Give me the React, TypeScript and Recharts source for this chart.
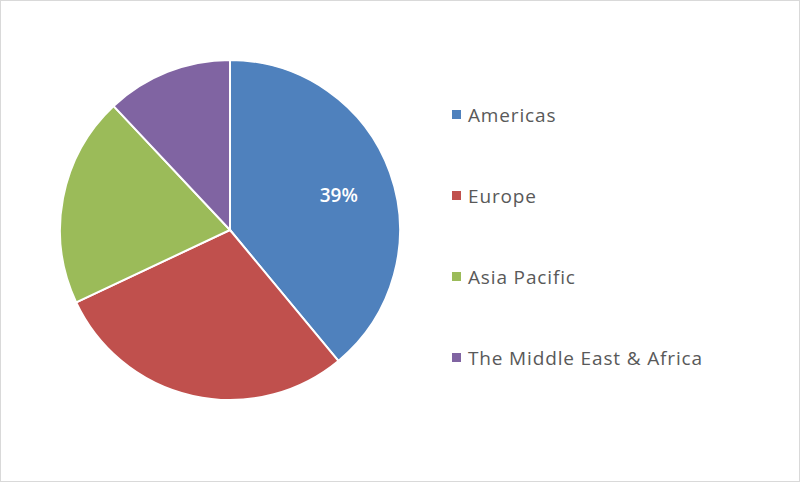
import { PieChart, Pie, Cell, Legend } from 'recharts';

// regional share, %
const regions = ['Americas', 'Europe', 'Asia Pacific', 'The Middle East & Africa'];
const shares = [39, 29, 20, 12];
const colors = ['#4F81BD', '#C0504D', '#9BBB59', '#8064A2'];
// only the first slice carries a percentage label
const labelled = [true, false, false, false];

const data = regions.map((name, i) => ({ name, value: shares[i] }));

const RAD = Math.PI / 180;

function SliceLabel(props: any) {
  const { cx, cy, midAngle, outerRadius, index, value } = props;
  if (!labelled[index]) return null;
  const r = outerRadius * 0.68;
  const x = cx + r * Math.cos(-midAngle * RAD);
  const y = cy + r * Math.sin(-midAngle * RAD) + 4;
  return (
    <text
      x={x}
      y={y}
      fill="#ffffff"
      fontSize={19}
      fontWeight={600}
      fontFamily="'Open Sans', sans-serif"
      textAnchor="middle"
      dominantBaseline="central"
    >
      {`${value}%`}
    </text>
  );
}

function LegendList() {
  return (
    <div
      style={{
        fontFamily: "'Open Sans', sans-serif",
        fontSize: 19,
        letterSpacing: 0.85,
        color: '#595959',
      }}
    >
      {regions.map((name, i) => (
        <div key={name} style={{ display: 'flex', alignItems: 'center', height: 81 }}>
          <span
            style={{
              display: 'inline-block',
              width: 9,
              height: 9,
              background: colors[i],
              marginRight: 7,
            }}
          />
          <span>{name}</span>
        </div>
      ))}
    </div>
  );
}

export default function App() {
  return (
    <div
      style={{
        position: 'absolute',
        left: 0,
        top: 0,
        width: 800,
        height: 482,
        boxSizing: 'border-box',
        border: '1px solid #d9d9d9',
        background: '#ffffff',
      }}
    >
      <div style={{ position: 'absolute', left: -1, top: -1 }}>
        <PieChart width={800} height={482} margin={{ top: 0, right: 0, bottom: 0, left: 0 }}>
          <Pie
            data={data}
            dataKey="value"
            nameKey="name"
            cx={230}
            cy={230}
            outerRadius={170}
            startAngle={90}
            endAngle={-270}
            stroke="#ffffff"
            strokeWidth={2}
            label={SliceLabel}
            labelLine={false}
            isAnimationActive={false}
          >
            {data.map((d, i) => (
              <Cell key={d.name} fill={colors[i]} />
            ))}
          </Pie>
          <Legend
            content={() => <LegendList />}
            layout="vertical"
            wrapperStyle={{ left: 452, top: 74, width: 340 }}
          />
        </PieChart>
      </div>
    </div>
  );
}
